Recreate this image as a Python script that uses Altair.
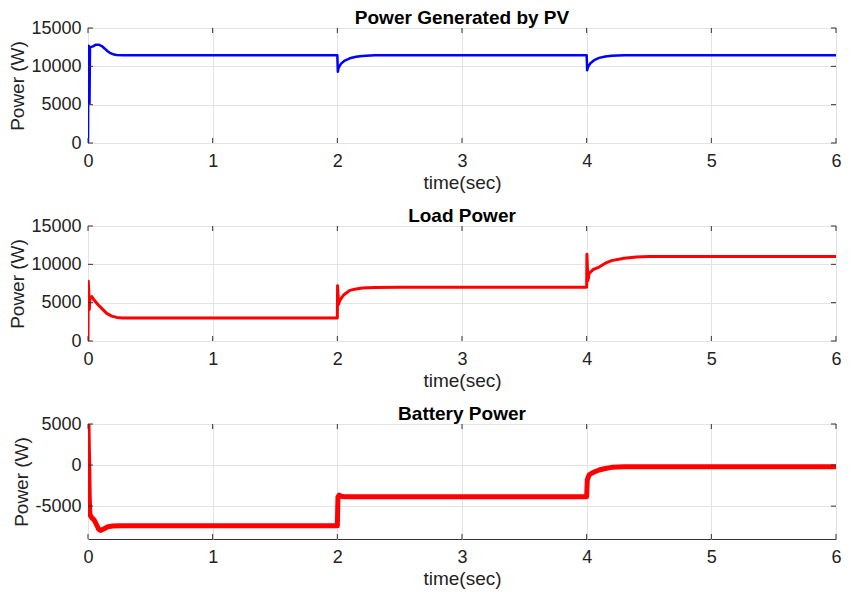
import altair as alt
import pandas as pd

# ---- data ----
pv_t = [0, 0.003, 0.008, 0.012, 0.016, 0.02, 0.04, 0.06, 0.09, 0.11, 0.135, 0.155, 0.175,
        0.2, 0.23, 0.28, 2.0, 2.004, 2.01, 2.03, 2.06, 2.1, 2.15, 2.2, 2.3,
        4.0, 4.004, 4.01, 4.03, 4.06, 4.1, 4.15, 4.2, 4.3, 6.0]
pv_p = [0, 12700, 12600, 5200, 12500, 12500, 12600, 12800, 12800, 12650, 12300, 12000, 11770,
        11580, 11480, 11450, 11450, 9300, 9800, 10350, 10750, 11050, 11250, 11360, 11440,
        11450, 9500, 9900, 10400, 10800, 11100, 11280, 11370, 11440, 11450]

load_t = [0, 0.002, 0.006, 0.01, 0.015, 0.03, 0.05, 0.085, 0.11, 0.15, 0.19, 0.23, 0.28,
          2.0, 2.002, 2.01, 2.02, 2.05, 2.1, 2.15, 2.2, 2.3, 2.5,
          4.0, 4.002, 4.01, 4.02, 4.05, 4.1, 4.15, 4.2, 4.3, 4.4, 4.5, 6.0]
load_p = [0, 7800, 6500, 4100, 5500, 5800, 5300, 4660, 4250, 3600, 3250, 3080, 3000,
          3000, 7200, 4800, 5300, 6000, 6600, 6780, 6900, 6970, 7000,
          7000, 11300, 7900, 8800, 9300, 9650, 10150, 10480, 10800, 10950, 11020, 11030]

bat_t = [0, 0.003, 0.006, 0.01, 0.015, 0.03, 0.05, 0.07, 0.085, 0.1, 0.13, 0.16, 0.2, 0.25,
         2.0, 2.005, 2.015, 2.03, 2.06, 2.1,
         4.0, 4.005, 4.02, 4.04, 4.06, 4.1, 4.15, 4.2, 4.3, 4.5, 6.0]
bat_p = [5000, 2000, 0, -4000, -6000, -6400, -6700, -7300, -7800, -7950, -7750, -7500, -7420, -7400,
         -7400, -3900, -3650, -3800, -3850, -3850,
         -3850, -1800, -1200, -1000, -850, -600, -420, -280, -200, -200, -200]

x_ticks = [0, 1, 2, 3, 4, 5, 6]
y_ticks_top = [0, 5000, 10000, 15000]
y_ticks_bat = [-5000, 0, 5000]

titles = ["Power Generated by PV", "Load Power", "Battery Power"]
colors = ["#0000ff", "#ff0000", "#ff0000"]
widths = [2.5, 3, 5]

FONT = "Liberation Sans"
W, H = 748, 115
TICK = 5
FRAME = "#333333"


def panel(t, p, title, color, sw, ydom, yticks):
    df = pd.DataFrame({"t": t, "p": p})
    xdf = pd.DataFrame({"t": x_ticks})
    ydf = pd.DataFrame({"p": yticks})
    x_enc = alt.X("t:Q", scale=alt.Scale(domain=[0, 6], nice=False),
                  axis=alt.Axis(values=x_ticks, title="time(sec)", labelExpr="'' + datum.value"))
    y_enc = alt.Y("p:Q", scale=alt.Scale(domain=ydom, nice=False, zero=False),
                  axis=alt.Axis(values=yticks, title="Power (W)", labelExpr="'' + datum.value"))
    line = alt.Chart(df).mark_line(color=color, strokeWidth=sw, clip=True,
                                   strokeJoin="round").encode(x=x_enc, y=y_enc)
    rule = dict(color=FRAME, strokeWidth=1)
    bot = alt.Chart(xdf).mark_rule(**rule).encode(x=x_enc, y=alt.value(H), y2=alt.value(H - TICK))
    top = alt.Chart(xdf).mark_rule(**rule).encode(x=x_enc, y=alt.value(0), y2=alt.value(TICK))
    lft = alt.Chart(ydf).mark_rule(**rule).encode(y=y_enc, x=alt.value(0), x2=alt.value(TICK))
    rgt = alt.Chart(ydf).mark_rule(**rule).encode(y=y_enc, x=alt.value(W - TICK), x2=alt.value(W))
    return alt.layer(line, bot, top, lft, rgt).properties(
        width=W, height=H,
        title=alt.Title(title, fontSize=19, fontWeight="bold", font=FONT,
                        color="#000000", offset=-9))


c1 = panel(pv_t, pv_p, titles[0], colors[0], widths[0], [0, 15000], y_ticks_top)
c2 = panel(load_t, load_p, titles[1], colors[1], widths[1], [0, 15000], y_ticks_top)
c3 = panel(bat_t, bat_p, titles[2], colors[2], widths[2], [-9000, 5000], y_ticks_bat)

chart = (
    alt.vconcat(c1, c2, c3, spacing=13)
    .properties(padding={"top": 0, "left": 0, "right": 0, "bottom": 0}, background="white")
    .configure_view(stroke=FRAME, strokeWidth=1)
    .configure_axis(
        grid=True, gridColor="#e3e3e3", gridWidth=1,
        domain=False, ticks=False, labelFlush=False,
        labelFont=FONT, labelFontSize=18, labelColor="#222222",
        titleFont=FONT, titleFontSize=19, titleFontWeight="normal", titleColor="#222222",
    )
    .configure_axisX(labelPadding=9, titlePadding=3)
    .configure_axisY(labelPadding=7, titlePadding=3)
)

chart.save("out.html", embed_options={"renderer": "svg", "actions": False})
